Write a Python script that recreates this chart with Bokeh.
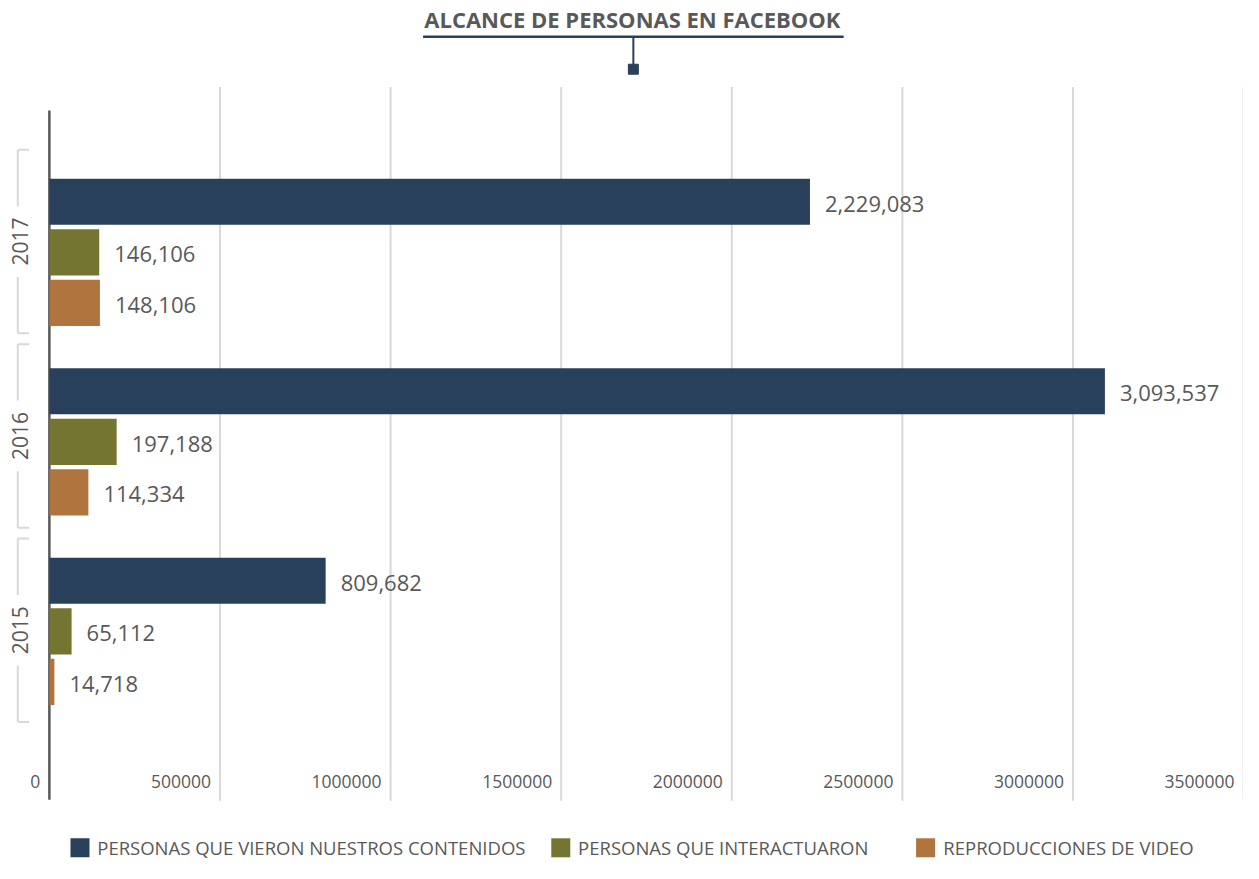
from bokeh.plotting import figure
from bokeh.models import ColumnDataSource, Range1d
from bokeh.transform import dodge
from bokeh.core.properties import value
from bokeh.embed import file_html
from bokeh.resources import INLINE
import math

# ---------------- data ----------------
years = ["2015", "2016", "2017"]
vistas = [809682, 3093537, 2229083]        # PERSONAS QUE VIERON NUESTROS CONTENIDOS
interactuaron = [65112, 197188, 146106]    # PERSONAS QUE INTERACTUARON
videos = [14718, 114334, 148106]           # REPRODUCCIONES DE VIDEO
series_names = ["PERSONAS QUE VIERON NUESTROS CONTENIDOS",
                "PERSONAS QUE INTERACTUARON",
                "REPRODUCCIONES DE VIDEO"]
x_ticks = [0, 500000, 1000000, 1500000, 2000000, 2500000, 3000000, 3500000]
x_tick_labels = ["0", "500000", "1000000", "1500000", "2000000", "2500000", "3000000", "3500000"]
title_text = "ALCANCE DE PERSONAS EN FACEBOOK"

# ---------------- style ----------------
NAVY = "#29405a"
OLIVE = "#737531"
ORANGE = "#b0743e"
colors = [NAVY, OLIVE, ORANGE]
TXT = "#595959"
GRID = "#d9d9d9"
FONT = "Open Sans"

W, H = 1243, 863
REF_W, REF_H = 1259, 879
# reference-pixel -> data mapping helpers
X0_REF = 49.5             # reference x of value 0
X_PER_PX = 500000 / 172.8
Y0_REF = 642.5            # reference y of index 0 (2015 group centre)
Y_PER_PX = 1 / 193.0


def px(ref_x):
    return (ref_x - X0_REF) * X_PER_PX


def py(ref_y):
    return (Y0_REF - ref_y) * Y_PER_PX


p = figure(width=W, height=H, output_backend="svg", toolbar_location=None,
           x_range=Range1d(px(0), px(REF_W)), y_range=Range1d(py(REF_H), py(0)),
           x_axis_type=None, y_axis_type=None, min_border=0)
p.outline_line_color = None
p.xgrid.visible = False
p.ygrid.visible = False
p.background_fill_color = "white"
p.border_fill_color = "white"

# ---------------- title ----------------
p.text(x=[px(640)], y=[py(19)], text=[title_text], text_font=value(FONT),
       text_font_style="bold", text_font_size="22px", text_color=TXT,
       text_align="center", text_baseline="middle")
p.segment(x0=[px(428)], y0=[py(37)], x1=[px(854)], y1=[py(37)], line_color=NAVY, line_width=2.5)
p.segment(x0=[px(641)], y0=[py(37)], x1=[px(641)], y1=[py(66)], line_color=NAVY, line_width=2)
p.scatter(x=[px(641)], y=[py(70)], marker="square", size=10, fill_color=NAVY, line_color=NAVY)

# ---------------- grid + axis ----------------
grid_ticks = x_ticks[1:]
p.segment(x0=grid_ticks, y0=[py(88)] * len(grid_ticks), x1=grid_ticks, y1=[py(815)] * len(grid_ticks),
          line_color=GRID, line_width=2)
p.segment(x0=[0], y0=[py(112)], x1=[0], y1=[py(814)], line_color=TXT, line_width=2.5)
p.text(x=x_ticks, y=[py(795)] * len(x_ticks), text=x_tick_labels, x_offset=-9,
       text_font=value(FONT), text_font_size="17.5px", text_color=TXT,
       text_align="right", text_baseline="middle")

# ---------------- bars ----------------
idx = list(range(len(years)))
src = ColumnDataSource(dict(idx=idx, years=years, vistas=vistas, interactuaron=interactuaron,
                            videos=videos,
                            l_vistas=[f"{v:,}" for v in vistas],
                            l_inter=[f"{v:,}" for v in interactuaron],
                            l_videos=[f"{v:,}" for v in videos]))
STEP = 51.5 * Y_PER_PX
BAR_H = 47 * Y_PER_PX
for col, lab, off, c, name in [("vistas", "l_vistas", STEP, NAVY, series_names[0]),
                               ("interactuaron", "l_inter", 0.0, OLIVE, series_names[1]),
                               ("videos", "l_videos", -STEP, ORANGE, series_names[2])]:
    p.hbar(y=dodge("idx", off), right=col, left=0, height=BAR_H, source=src,
           fill_color=c, line_color=None)
    p.text(x=col, y=dodge("idx", off - 2 * Y_PER_PX), text=lab, source=src, x_offset=15,
           text_font=value(FONT), text_font_size="22px", text_color=TXT,
           text_align="left", text_baseline="middle")

# ---------------- category brackets ----------------
BR_X0, BR_X1 = px(17.5), px(29)
HALF = 93.5 * Y_PER_PX
GAP = 36 * Y_PER_PX
centers = [i * (198 / 193) + 1 / 193 for i in idx]
tops = [c + HALF for c in centers]
bots = [c - HALF for c in centers]
p.segment(x0=[BR_X0] * 3, y0=tops, x1=[BR_X1] * 3, y1=tops, line_color=GRID, line_width=2)
p.segment(x0=[BR_X0] * 3, y0=bots, x1=[BR_X1] * 3, y1=bots, line_color=GRID, line_width=2)
p.segment(x0=[BR_X0] * 3, y0=tops, x1=[BR_X0] * 3, y1=[c + GAP for c in centers],
          line_color=GRID, line_width=2)
p.segment(x0=[BR_X0] * 3, y0=bots, x1=[BR_X0] * 3, y1=[c - GAP for c in centers],
          line_color=GRID, line_width=2)
p.text(x=[px(20)] * 3, y=centers, text=years, angle=math.pi / 2,
       text_font=value(FONT), text_font_size="21px", text_color=TXT,
       text_align="center", text_baseline="middle")

# ---------------- legend ----------------
leg_y = py(863)
sq_x = [px(80.5), px(567.5), px(937)]
tx_x = [px(98), px(585), px(955)]
p.scatter(x=sq_x, y=[leg_y] * 3, marker="square", size=19, fill_color=colors, line_color=None)
p.text(x=tx_x, y=[leg_y] * 3, text=series_names, text_font=value(FONT),
       text_font_size="18.5px", text_color=TXT, text_align="left", text_baseline="middle")

open("out.html", "w").write(file_html(p, INLINE))
